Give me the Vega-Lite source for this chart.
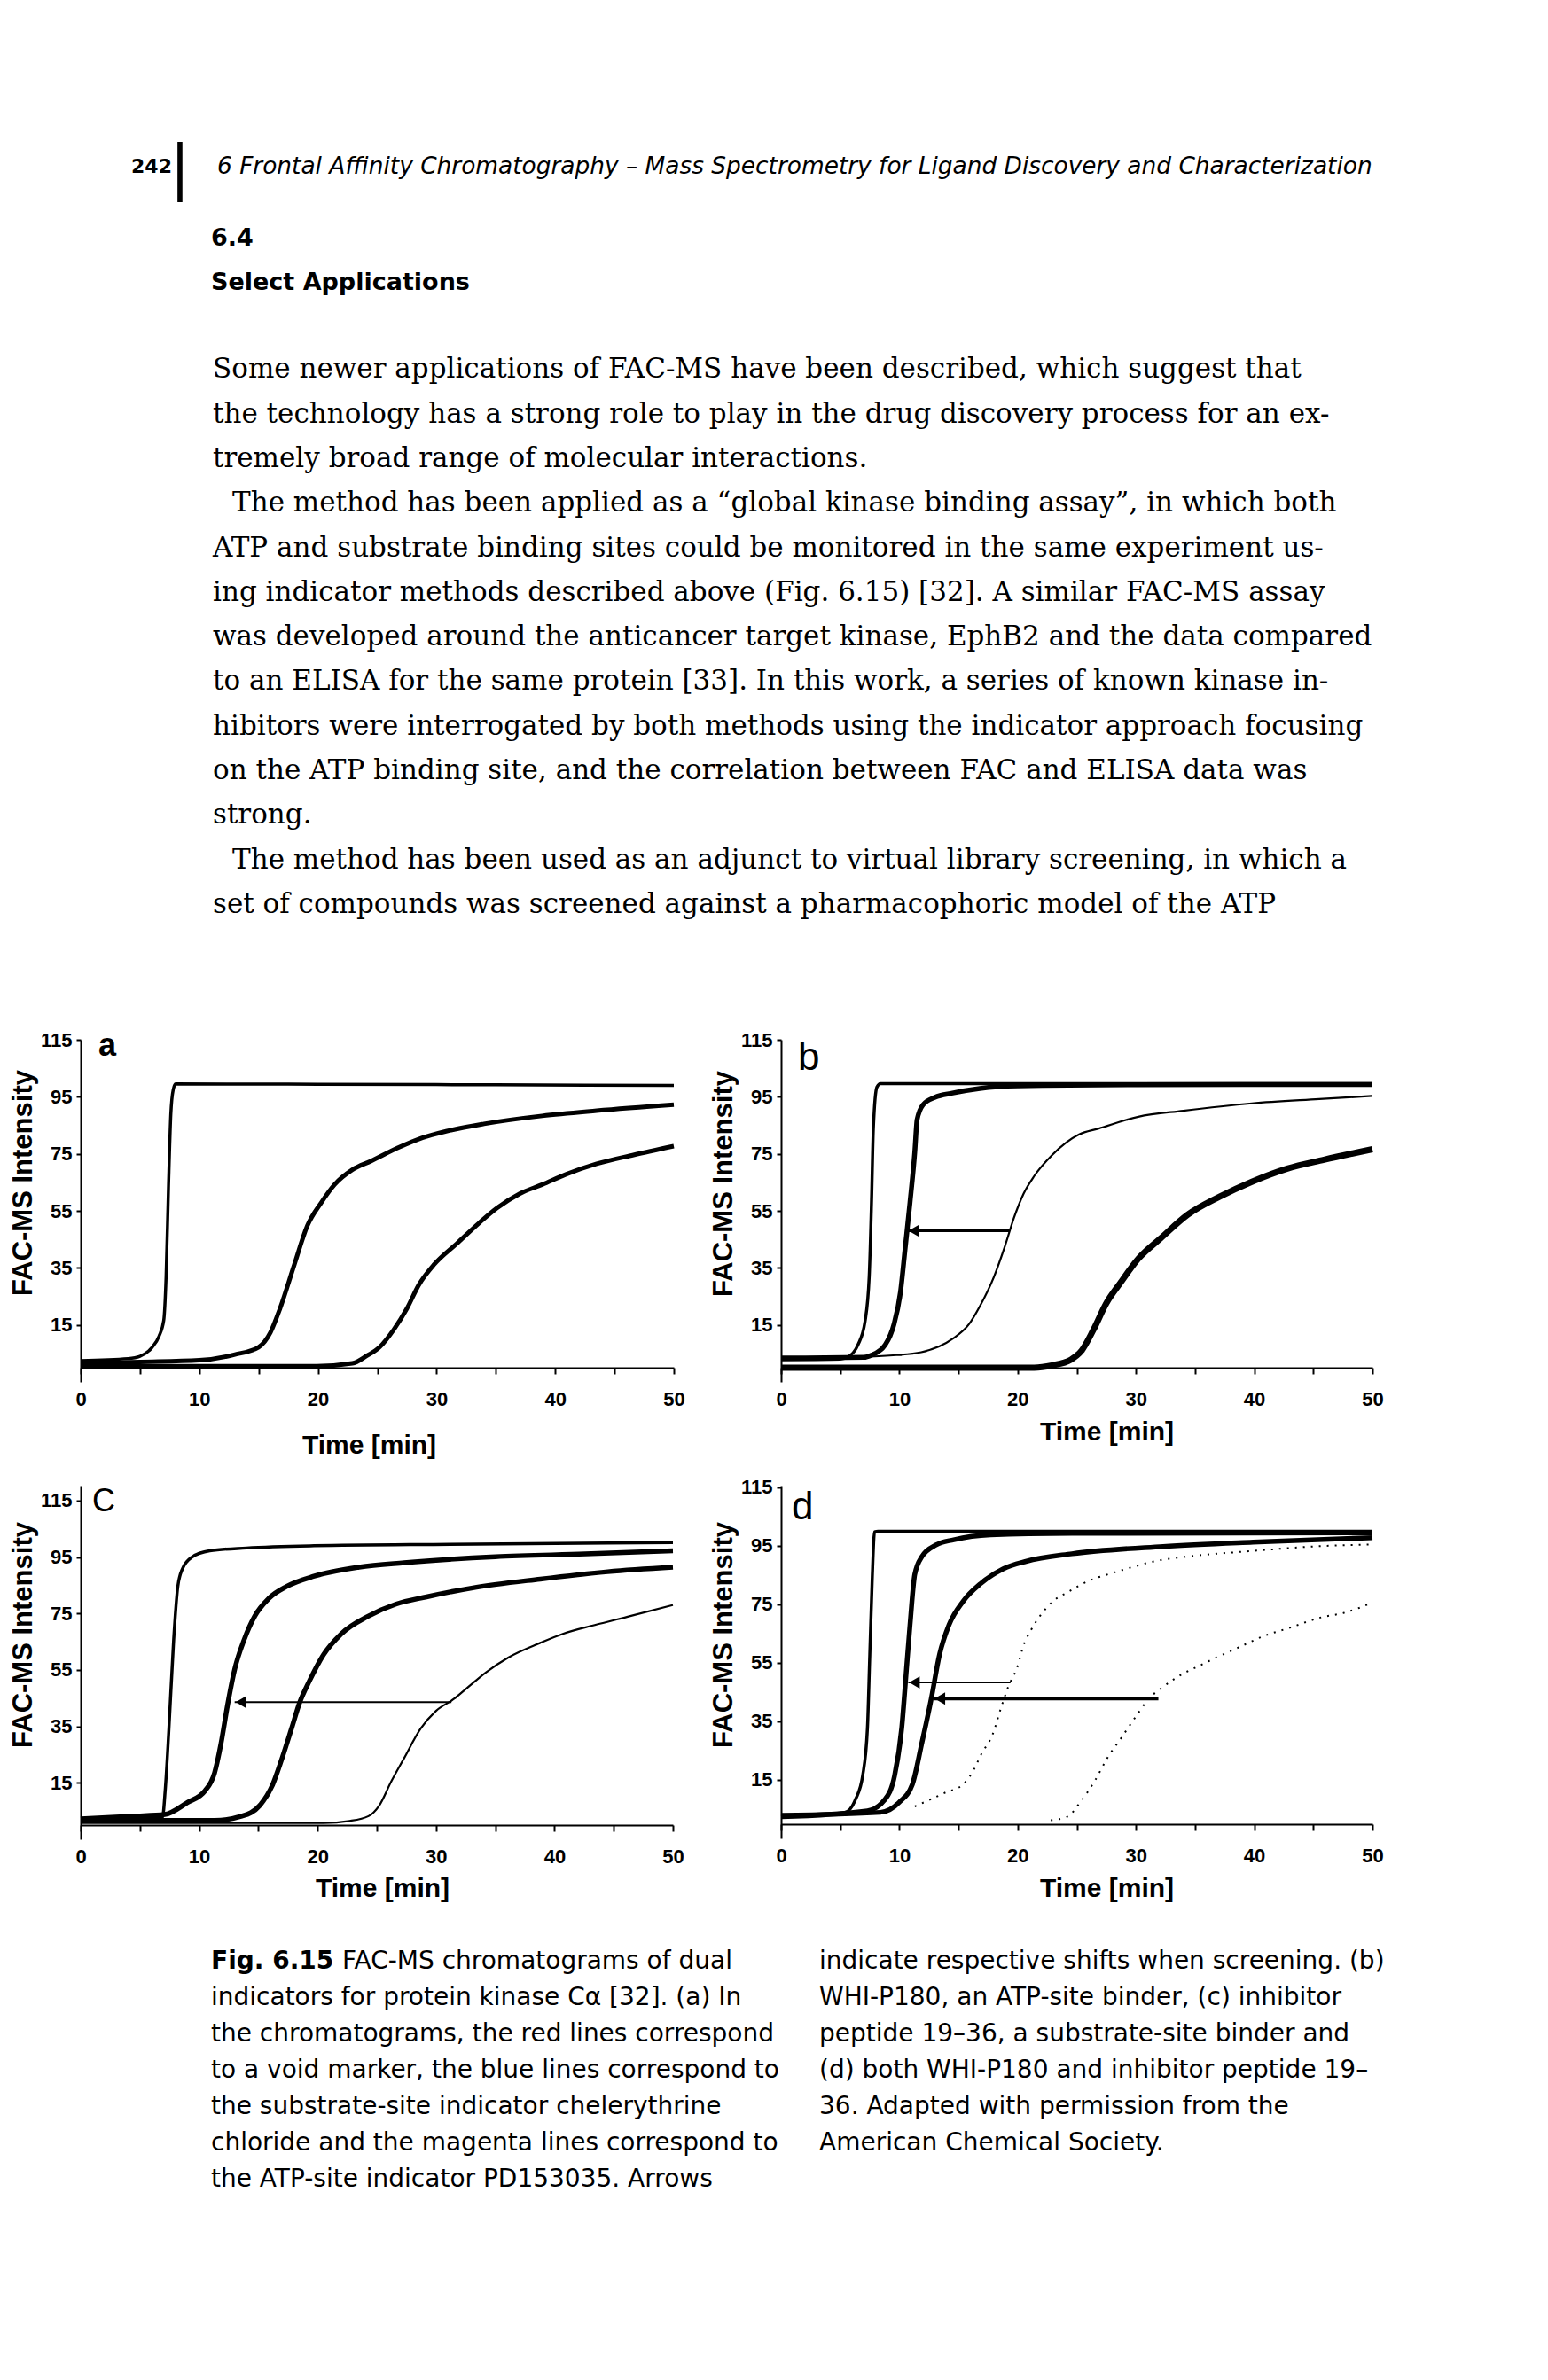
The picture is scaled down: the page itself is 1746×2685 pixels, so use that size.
{
"$schema": "https://vega.github.io/schema/vega-lite/v6.json",
"background": "white",
"padding": {"left": 10, "top": 0, "right": 20, "bottom": 20},
"bounds": "flush",
"columns": 2,
"spacing": {"row": 117, "column": 121},
"resolve": {"scale": {"x": "independent", "y": "independent"}},
"config": {
  "view": {"stroke": null},
  "axis": {"grid": false, "domainColor": "black", "domainWidth": 2, "tickColor": "black", "tickWidth": 2, "labelColor": "black", "titleColor": "black", "labelFont": "Liberation Sans", "titleFont": "Liberation Sans", "labelFontSize": 22, "labelFontWeight": "bold", "titleFontSize": 30, "titleFontWeight": "bold", "labelOverlap": false},
  "axisX": {"tickSize": 7, "labelPadding": 18, "offset": -16, "titleBaseline": "middle", "labelFlush": false},
  "axisY": {"tickSize": 5, "labelPadding": 5, "titlePadding": 3, "titleFontSize": 31},
  "title": {"anchor": "start", "frame": "group", "orient": "top", "baseline": "alphabetic", "font": "Liberation Sans", "color": "black"}
},
"datasets": {
"page": [
{"line":3,"part":"folio","text":"242"},
{"line":3,"part":"bar","text":"|"},
{"line":3,"part":"header","text":"6 Frontal Affinity Chromatography – Mass Spectrometry for Ligand Discovery and Characterization"},
{"line":5,"part":"section","text":"6.4"},
{"line":6,"part":"section","text":"Select Applications"},
{"line":8,"part":"body","text":"Some newer applications of FAC-MS have been described, which suggest that"},
{"line":9,"part":"body","text":"the technology has a strong role to play in the drug discovery process for an ex-"},
{"line":10,"part":"body","text":"tremely broad range of molecular interactions."},
{"line":11,"part":"first","text":"The method has been applied as a “global kinase binding assay”, in which both"},
{"line":12,"part":"body","text":"ATP and substrate binding sites could be monitored in the same experiment us-"},
{"line":13,"part":"body","text":"ing indicator methods described above (Fig. 6.15) [32]. A similar FAC-MS assay"},
{"line":14,"part":"body","text":"was developed around the anticancer target kinase, EphB2 and the data compared"},
{"line":15,"part":"body","text":"to an ELISA for the same protein [33]. In this work, a series of known kinase in-"},
{"line":16,"part":"body","text":"hibitors were interrogated by both methods using the indicator approach focusing"},
{"line":17,"part":"body","text":"on the ATP binding site, and the correlation between FAC and ELISA data was"},
{"line":18,"part":"body","text":"strong."},
{"line":19,"part":"first","text":"The method has been used as an adjunct to virtual library screening, in which a"},
{"line":20,"part":"body","text":"set of compounds was screened against a pharmacophoric model of the ATP"}
],
"caption": [
{"col":"left","line":0,"part":"label","text":"Fig. 6.15"},
{"col":"left","line":0,"part":"cont","text":"FAC-MS chromatograms of dual"},
{"col":"left","line":1,"part":"text","text":"indicators for protein kinase Cα [32]. (a) In"},
{"col":"left","line":2,"part":"text","text":"the chromatograms, the red lines correspond"},
{"col":"left","line":3,"part":"text","text":"to a void marker, the blue lines correspond to"},
{"col":"left","line":4,"part":"text","text":"the substrate-site indicator chelerythrine"},
{"col":"left","line":5,"part":"text","text":"chloride and the magenta lines correspond to"},
{"col":"left","line":6,"part":"text","text":"the ATP-site indicator PD153035. Arrows"},
{"col":"right","line":0,"part":"text","text":"indicate respective shifts when screening. (b)"},
{"col":"right","line":1,"part":"text","text":"WHI-P180, an ATP-site binder, (c) inhibitor"},
{"col":"right","line":2,"part":"text","text":"peptide 19–36, a substrate-site binder and"},
{"col":"right","line":3,"part":"text","text":"(d) both WHI-P180 and inhibitor peptide 19–"},
{"col":"right","line":4,"part":"text","text":"36. Adapted with permission from the"},
{"col":"right","line":5,"part":"text","text":"American Chemical Society."}
],
"arrows": [
{"panel":"b","inhibitor":"WHI-P180","t":19.3,"t2":10.7,"v":48},
{"panel":"c","inhibitor":"peptide 19-36","t":31.3,"t2":13.0,"v":43.6},
{"panel":"d","inhibitor":"WHI-P180","t":19.4,"t2":10.75,"v":48.3},
{"panel":"d","inhibitor":"peptide 19-36","t":31.9,"t2":12.9,"v":42.8}
],
"curves": [
{"panel":"a","curve":"a1","run":"void marker","t":0,"v":2.5},
{"panel":"a","curve":"a1","run":"void marker","t":4,"v":3.2},
{"panel":"a","curve":"a1","run":"void marker","t":5,"v":4},
{"panel":"a","curve":"a1","run":"void marker","t":6,"v":7},
{"panel":"a","curve":"a1","run":"void marker","t":6.6,"v":11},
{"panel":"a","curve":"a1","run":"void marker","t":7,"v":16.5},
{"panel":"a","curve":"a1","run":"void marker","t":7.2,"v":32},
{"panel":"a","curve":"a1","run":"void marker","t":7.4,"v":63},
{"panel":"a","curve":"a1","run":"void marker","t":7.6,"v":89},
{"panel":"a","curve":"a1","run":"void marker","t":7.8,"v":97.5},
{"panel":"a","curve":"a1","run":"void marker","t":8,"v":99.5},
{"panel":"a","curve":"a1","run":"void marker","t":20,"v":99.4},
{"panel":"a","curve":"a1","run":"void marker","t":35,"v":99.2},
{"panel":"a","curve":"a1","run":"void marker","t":50,"v":99},
{"panel":"a","curve":"a2","run":"indicator","t":0,"v":1.5},
{"panel":"a","curve":"a2","run":"indicator","t":5,"v":2},
{"panel":"a","curve":"a2","run":"indicator","t":10,"v":2.6},
{"panel":"a","curve":"a2","run":"indicator","t":13,"v":4.6},
{"panel":"a","curve":"a2","run":"indicator","t":15,"v":7.2},
{"panel":"a","curve":"a2","run":"indicator","t":16,"v":12.4},
{"panel":"a","curve":"a2","run":"indicator","t":16.8,"v":20.7},
{"panel":"a","curve":"a2","run":"indicator","t":18,"v":36},
{"panel":"a","curve":"a2","run":"indicator","t":19.1,"v":49.7},
{"panel":"a","curve":"a2","run":"indicator","t":20.3,"v":58},
{"panel":"a","curve":"a2","run":"indicator","t":21.4,"v":64.2},
{"panel":"a","curve":"a2","run":"indicator","t":22.9,"v":69.4},
{"panel":"a","curve":"a2","run":"indicator","t":24.5,"v":72.5},
{"panel":"a","curve":"a2","run":"indicator","t":26.8,"v":77.2},
{"panel":"a","curve":"a2","run":"indicator","t":28.8,"v":80.6},
{"panel":"a","curve":"a2","run":"indicator","t":30.8,"v":82.9},
{"panel":"a","curve":"a2","run":"indicator","t":34,"v":85.5},
{"panel":"a","curve":"a2","run":"indicator","t":38.9,"v":88.3},
{"panel":"a","curve":"a2","run":"indicator","t":43.5,"v":90.1},
{"panel":"a","curve":"a2","run":"indicator","t":50,"v":92.2},
{"panel":"a","curve":"a3","run":"indicator","t":0,"v":0.5},
{"panel":"a","curve":"a3","run":"indicator","t":19.9,"v":0.5},
{"panel":"a","curve":"a3","run":"indicator","t":22.9,"v":1.5},
{"panel":"a","curve":"a3","run":"indicator","t":24.1,"v":4.1},
{"panel":"a","curve":"a3","run":"indicator","t":25.2,"v":7.2},
{"panel":"a","curve":"a3","run":"indicator","t":26.4,"v":13.4},
{"panel":"a","curve":"a3","run":"indicator","t":27.5,"v":20.7},
{"panel":"a","curve":"a3","run":"indicator","t":28.5,"v":29},
{"panel":"a","curve":"a3","run":"indicator","t":29.8,"v":36.2},
{"panel":"a","curve":"a3","run":"indicator","t":31.7,"v":43.5},
{"panel":"a","curve":"a3","run":"indicator","t":33.6,"v":50.8},
{"panel":"a","curve":"a3","run":"indicator","t":35.1,"v":56},
{"panel":"a","curve":"a3","run":"indicator","t":37,"v":61},
{"panel":"a","curve":"a3","run":"indicator","t":38.9,"v":64.2},
{"panel":"a","curve":"a3","run":"indicator","t":40.9,"v":67.8},
{"panel":"a","curve":"a3","run":"indicator","t":43.5,"v":71.5},
{"panel":"a","curve":"a3","run":"indicator","t":46.6,"v":74.6},
{"panel":"a","curve":"a3","run":"indicator","t":50,"v":77.7},
{"panel":"b","curve":"b1","run":"void marker","t":0,"v":2.8},
{"panel":"b","curve":"b1","run":"void marker","t":5,"v":3},
{"panel":"b","curve":"b1","run":"void marker","t":5.7,"v":3.9},
{"panel":"b","curve":"b1","run":"void marker","t":6.5,"v":8},
{"panel":"b","curve":"b1","run":"void marker","t":7.1,"v":16.3},
{"panel":"b","curve":"b1","run":"void marker","t":7.45,"v":32},
{"panel":"b","curve":"b1","run":"void marker","t":7.65,"v":59},
{"panel":"b","curve":"b1","run":"void marker","t":7.8,"v":84},
{"panel":"b","curve":"b1","run":"void marker","t":8.1,"v":98.4},
{"panel":"b","curve":"b1","run":"void marker","t":8.4,"v":99.6},
{"panel":"b","curve":"b1","run":"void marker","t":30,"v":99.6},
{"panel":"b","curve":"b1","run":"void marker","t":50,"v":99.6},
{"panel":"b","curve":"b2","run":"indicator, screened","t":0,"v":3.4},
{"panel":"b","curve":"b2","run":"indicator, screened","t":7,"v":3.6},
{"panel":"b","curve":"b2","run":"indicator, screened","t":7.65,"v":4.4},
{"panel":"b","curve":"b2","run":"indicator, screened","t":8.8,"v":8},
{"panel":"b","curve":"b2","run":"indicator, screened","t":9.55,"v":15.3},
{"panel":"b","curve":"b2","run":"indicator, screened","t":10.1,"v":26.7},
{"panel":"b","curve":"b2","run":"indicator, screened","t":10.5,"v":42.3},
{"panel":"b","curve":"b2","run":"indicator, screened","t":10.9,"v":58},
{"panel":"b","curve":"b2","run":"indicator, screened","t":11.3,"v":75.5},
{"panel":"b","curve":"b2","run":"indicator, screened","t":11.5,"v":87},
{"panel":"b","curve":"b2","run":"indicator, screened","t":12,"v":92.2},
{"panel":"b","curve":"b2","run":"indicator, screened","t":13,"v":94.8},
{"panel":"b","curve":"b2","run":"indicator, screened","t":14.5,"v":96.3},
{"panel":"b","curve":"b2","run":"indicator, screened","t":16.8,"v":97.9},
{"panel":"b","curve":"b2","run":"indicator, screened","t":20,"v":98.8},
{"panel":"b","curve":"b2","run":"indicator, screened","t":30,"v":99.2},
{"panel":"b","curve":"b2","run":"indicator, screened","t":50,"v":99.3},
{"panel":"b","curve":"b3","run":"indicator, control","t":0,"v":3},
{"panel":"b","curve":"b3","run":"indicator, control","t":9.75,"v":4.4},
{"panel":"b","curve":"b3","run":"indicator, control","t":11.85,"v":5.4},
{"panel":"b","curve":"b3","run":"indicator, control","t":14.5,"v":10.1},
{"panel":"b","curve":"b3","run":"indicator, control","t":15.9,"v":15.3},
{"panel":"b","curve":"b3","run":"indicator, control","t":16.8,"v":21.5},
{"panel":"b","curve":"b3","run":"indicator, control","t":18,"v":31.9},
{"panel":"b","curve":"b3","run":"indicator, control","t":18.9,"v":42.3},
{"panel":"b","curve":"b3","run":"indicator, control","t":19.7,"v":52.7},
{"panel":"b","curve":"b3","run":"indicator, control","t":20.5,"v":61},
{"panel":"b","curve":"b3","run":"indicator, control","t":21.4,"v":67.2},
{"panel":"b","curve":"b3","run":"indicator, control","t":22.9,"v":74.5},
{"panel":"b","curve":"b3","run":"indicator, control","t":25.2,"v":81.8},
{"panel":"b","curve":"b3","run":"indicator, control","t":26.8,"v":83.8},
{"panel":"b","curve":"b3","run":"indicator, control","t":30.2,"v":88},
{"panel":"b","curve":"b3","run":"indicator, control","t":34,"v":90.1},
{"panel":"b","curve":"b3","run":"indicator, control","t":39.8,"v":92.7},
{"panel":"b","curve":"b3","run":"indicator, control","t":45.5,"v":94.2},
{"panel":"b","curve":"b3","run":"indicator, control","t":50,"v":95.3},
{"panel":"b","curve":"b4","run":"indicator","t":0,"v":0},
{"panel":"b","curve":"b4","run":"indicator","t":21.4,"v":0},
{"panel":"b","curve":"b4","run":"indicator","t":22.9,"v":0.8},
{"panel":"b","curve":"b4","run":"indicator","t":24.5,"v":2.8},
{"panel":"b","curve":"b4","run":"indicator","t":25.4,"v":5.9},
{"panel":"b","curve":"b4","run":"indicator","t":26.4,"v":13.2},
{"panel":"b","curve":"b4","run":"indicator","t":27.5,"v":22.6},
{"panel":"b","curve":"b4","run":"indicator","t":28.7,"v":29.8},
{"panel":"b","curve":"b4","run":"indicator","t":30.2,"v":38.2},
{"panel":"b","curve":"b4","run":"indicator","t":32.1,"v":45.4},
{"panel":"b","curve":"b4","run":"indicator","t":34.4,"v":53.7},
{"panel":"b","curve":"b4","run":"indicator","t":37.1,"v":60},
{"panel":"b","curve":"b4","run":"indicator","t":39.8,"v":65.2},
{"panel":"b","curve":"b4","run":"indicator","t":42.8,"v":69.8},
{"panel":"b","curve":"b4","run":"indicator","t":45.9,"v":72.9},
{"panel":"b","curve":"b4","run":"indicator","t":50,"v":76.6},
{"panel":"c","curve":"c1","run":"void marker","t":0,"v":1.7},
{"panel":"c","curve":"c1","run":"void marker","t":6.9,"v":2.7},
{"panel":"c","curve":"c1","run":"void marker","t":7.15,"v":13.2},
{"panel":"c","curve":"c1","run":"void marker","t":7.45,"v":34.2},
{"panel":"c","curve":"c1","run":"void marker","t":7.85,"v":65.7},
{"panel":"c","curve":"c1","run":"void marker","t":8.2,"v":84.6},
{"panel":"c","curve":"c1","run":"void marker","t":8.6,"v":90.9},
{"panel":"c","curve":"c1","run":"void marker","t":9.4,"v":95},
{"panel":"c","curve":"c1","run":"void marker","t":10.9,"v":97.2},
{"panel":"c","curve":"c1","run":"void marker","t":14,"v":98.2},
{"panel":"c","curve":"c1","run":"void marker","t":19.7,"v":99},
{"panel":"c","curve":"c1","run":"void marker","t":31.2,"v":99.5},
{"panel":"c","curve":"c1","run":"void marker","t":50,"v":100.1},
{"panel":"c","curve":"c2","run":"indicator, screened","t":0,"v":2.2},
{"panel":"c","curve":"c2","run":"indicator, screened","t":4.4,"v":3.2},
{"panel":"c","curve":"c2","run":"indicator, screened","t":7.1,"v":3.8},
{"panel":"c","curve":"c2","run":"indicator, screened","t":9,"v":8},
{"panel":"c","curve":"c2","run":"indicator, screened","t":10.5,"v":12.2},
{"panel":"c","curve":"c2","run":"indicator, screened","t":11.3,"v":18.5},
{"panel":"c","curve":"c2","run":"indicator, screened","t":11.85,"v":29},
{"panel":"c","curve":"c2","run":"indicator, screened","t":12.4,"v":42.6},
{"panel":"c","curve":"c2","run":"indicator, screened","t":13,"v":55.2},
{"panel":"c","curve":"c2","run":"indicator, screened","t":13.8,"v":65.7},
{"panel":"c","curve":"c2","run":"indicator, screened","t":14.7,"v":74.1},
{"panel":"c","curve":"c2","run":"indicator, screened","t":15.9,"v":80.4},
{"panel":"c","curve":"c2","run":"indicator, screened","t":17.4,"v":84.6},
{"panel":"c","curve":"c2","run":"indicator, screened","t":19.7,"v":88.2},
{"panel":"c","curve":"c2","run":"indicator, screened","t":23.5,"v":91.4},
{"panel":"c","curve":"c2","run":"indicator, screened","t":27.3,"v":93},
{"panel":"c","curve":"c2","run":"indicator, screened","t":35,"v":95.1},
{"panel":"c","curve":"c2","run":"indicator, screened","t":42.6,"v":96.1},
{"panel":"c","curve":"c2","run":"indicator, screened","t":50,"v":97.2},
{"panel":"c","curve":"c3","run":"indicator","t":0,"v":1.7},
{"panel":"c","curve":"c3","run":"indicator","t":11.3,"v":1.7},
{"panel":"c","curve":"c3","run":"indicator","t":13.6,"v":3.2},
{"panel":"c","curve":"c3","run":"indicator","t":15.1,"v":6.9},
{"panel":"c","curve":"c3","run":"indicator","t":16.2,"v":14.3},
{"panel":"c","curve":"c3","run":"indicator","t":17,"v":23.7},
{"panel":"c","curve":"c3","run":"indicator","t":17.8,"v":34.2},
{"panel":"c","curve":"c3","run":"indicator","t":18.5,"v":43.6},
{"panel":"c","curve":"c3","run":"indicator","t":19.3,"v":51},
{"panel":"c","curve":"c3","run":"indicator","t":20.5,"v":60.4},
{"panel":"c","curve":"c3","run":"indicator","t":22,"v":67.8},
{"panel":"c","curve":"c3","run":"indicator","t":24.3,"v":74.1},
{"panel":"c","curve":"c3","run":"indicator","t":26.6,"v":78.3},
{"panel":"c","curve":"c3","run":"indicator","t":29.2,"v":80.9},
{"panel":"c","curve":"c3","run":"indicator","t":33,"v":84},
{"panel":"c","curve":"c3","run":"indicator","t":38.8,"v":87.2},
{"panel":"c","curve":"c3","run":"indicator","t":44.5,"v":89.8},
{"panel":"c","curve":"c3","run":"indicator","t":50,"v":91.4},
{"panel":"c","curve":"c4","run":"indicator, control","t":0,"v":0.8},
{"panel":"c","curve":"c4","run":"indicator, control","t":20.5,"v":0.8},
{"panel":"c","curve":"c4","run":"indicator, control","t":22.7,"v":1.5},
{"panel":"c","curve":"c4","run":"indicator, control","t":24.3,"v":3.2},
{"panel":"c","curve":"c4","run":"indicator, control","t":25.2,"v":6.9},
{"panel":"c","curve":"c4","run":"indicator, control","t":26.2,"v":15.3},
{"panel":"c","curve":"c4","run":"indicator, control","t":27.3,"v":23.7},
{"panel":"c","curve":"c4","run":"indicator, control","t":28.7,"v":34.2},
{"panel":"c","curve":"c4","run":"indicator, control","t":30,"v":40.5},
{"panel":"c","curve":"c4","run":"indicator, control","t":31.5,"v":44.7},
{"panel":"c","curve":"c4","run":"indicator, control","t":32.7,"v":48.9},
{"panel":"c","curve":"c4","run":"indicator, control","t":34.2,"v":54.1},
{"panel":"c","curve":"c4","run":"indicator, control","t":36.1,"v":59.4},
{"panel":"c","curve":"c4","run":"indicator, control","t":38.8,"v":64.6},
{"panel":"c","curve":"c4","run":"indicator, control","t":40.7,"v":67.8},
{"panel":"c","curve":"c4","run":"indicator, control","t":43.4,"v":70.9},
{"panel":"c","curve":"c4","run":"indicator, control","t":46.4,"v":74.1},
{"panel":"c","curve":"c4","run":"indicator, control","t":50,"v":78},
{"panel":"d","curve":"d1","run":"void marker","t":0,"v":2.4},
{"panel":"d","curve":"d1","run":"void marker","t":5.4,"v":3.9},
{"panel":"d","curve":"d1","run":"void marker","t":6.3,"v":8.4},
{"panel":"d","curve":"d1","run":"void marker","t":6.9,"v":16.5},
{"panel":"d","curve":"d1","run":"void marker","t":7.3,"v":32.7},
{"panel":"d","curve":"d1","run":"void marker","t":7.5,"v":57.9},
{"panel":"d","curve":"d1","run":"void marker","t":7.7,"v":83.2},
{"panel":"d","curve":"d1","run":"void marker","t":7.9,"v":99.8},
{"panel":"d","curve":"d1","run":"void marker","t":8.2,"v":100},
{"panel":"d","curve":"d1","run":"void marker","t":50,"v":100},
{"panel":"d","curve":"d2","run":"indicator, screened","t":0,"v":2.4},
{"panel":"d","curve":"d2","run":"indicator, screened","t":7.3,"v":4.4},
{"panel":"d","curve":"d2","run":"indicator, screened","t":8.8,"v":8.4},
{"panel":"d","curve":"d2","run":"indicator, screened","t":9.6,"v":16.5},
{"panel":"d","curve":"d2","run":"indicator, screened","t":10.2,"v":32.7},
{"panel":"d","curve":"d2","run":"indicator, screened","t":10.6,"v":52.9},
{"panel":"d","curve":"d2","run":"indicator, screened","t":10.9,"v":68},
{"panel":"d","curve":"d2","run":"indicator, screened","t":11.3,"v":85.2},
{"panel":"d","curve":"d2","run":"indicator, screened","t":11.9,"v":91.3},
{"panel":"d","curve":"d2","run":"indicator, screened","t":13.1,"v":95.3},
{"panel":"d","curve":"d2","run":"indicator, screened","t":14.6,"v":97.1},
{"panel":"d","curve":"d2","run":"indicator, screened","t":17.7,"v":98.8},
{"panel":"d","curve":"d2","run":"indicator, screened","t":24.6,"v":99.3},
{"panel":"d","curve":"d2","run":"indicator, screened","t":50,"v":99.5},
{"panel":"d","curve":"d3","run":"indicator, screened","t":0,"v":2.9},
{"panel":"d","curve":"d3","run":"indicator, screened","t":8.4,"v":3.9},
{"panel":"d","curve":"d3","run":"indicator, screened","t":10,"v":7.4},
{"panel":"d","curve":"d3","run":"indicator, screened","t":11.1,"v":13.5},
{"panel":"d","curve":"d3","run":"indicator, screened","t":11.9,"v":27.6},
{"panel":"d","curve":"d3","run":"indicator, screened","t":12.7,"v":42.8},
{"panel":"d","curve":"d3","run":"indicator, screened","t":13.4,"v":57.9},
{"panel":"d","curve":"d3","run":"indicator, screened","t":14.2,"v":68},
{"panel":"d","curve":"d3","run":"indicator, screened","t":15.4,"v":76.1},
{"panel":"d","curve":"d3","run":"indicator, screened","t":16.9,"v":82.2},
{"panel":"d","curve":"d3","run":"indicator, screened","t":18.8,"v":87.2},
{"panel":"d","curve":"d3","run":"indicator, screened","t":20.7,"v":89.7},
{"panel":"d","curve":"d3","run":"indicator, screened","t":24.6,"v":92.3},
{"panel":"d","curve":"d3","run":"indicator, screened","t":32.3,"v":94.8},
{"panel":"d","curve":"d3","run":"indicator, screened","t":39.9,"v":96.3},
{"panel":"d","curve":"d3","run":"indicator, screened","t":50,"v":97.8},
{"panel":"d","curve":"d4","run":"indicator, control","t":11.3,"v":5.9},
{"panel":"d","curve":"d4","run":"indicator, control","t":13.8,"v":10.5},
{"panel":"d","curve":"d4","run":"indicator, control","t":15.4,"v":13.5},
{"panel":"d","curve":"d4","run":"indicator, control","t":16.3,"v":18.5},
{"panel":"d","curve":"d4","run":"indicator, control","t":16.9,"v":23.6},
{"panel":"d","curve":"d4","run":"indicator, control","t":17.9,"v":30.7},
{"panel":"d","curve":"d4","run":"indicator, control","t":18.6,"v":39.7},
{"panel":"d","curve":"d4","run":"indicator, control","t":19.2,"v":46.8},
{"panel":"d","curve":"d4","run":"indicator, control","t":20,"v":53.9},
{"panel":"d","curve":"d4","run":"indicator, control","t":20.5,"v":61},
{"panel":"d","curve":"d4","run":"indicator, control","t":21.1,"v":66},
{"panel":"d","curve":"d4","run":"indicator, control","t":21.9,"v":71.1},
{"panel":"d","curve":"d4","run":"indicator, control","t":23,"v":76.1},
{"panel":"d","curve":"d4","run":"indicator, control","t":24.2,"v":79.1},
{"panel":"d","curve":"d4","run":"indicator, control","t":26.1,"v":83.2},
{"panel":"d","curve":"d4","run":"indicator, control","t":28,"v":85.7},
{"panel":"d","curve":"d4","run":"indicator, control","t":32.3,"v":90.3},
{"panel":"d","curve":"d4","run":"indicator, control","t":34.2,"v":91.3},
{"panel":"d","curve":"d4","run":"indicator, control","t":40,"v":93.3},
{"panel":"d","curve":"d4","run":"indicator, control","t":45,"v":94.8},
{"panel":"d","curve":"d4","run":"indicator, control","t":50,"v":95.5},
{"panel":"d","curve":"d5","run":"indicator, control","t":22.8,"v":1.2},
{"panel":"d","curve":"d5","run":"indicator, control","t":24.2,"v":2.4},
{"panel":"d","curve":"d5","run":"indicator, control","t":25.3,"v":7.4},
{"panel":"d","curve":"d5","run":"indicator, control","t":26.5,"v":14.5},
{"panel":"d","curve":"d5","run":"indicator, control","t":27.6,"v":22.6},
{"panel":"d","curve":"d5","run":"indicator, control","t":28.8,"v":29.6},
{"panel":"d","curve":"d5","run":"indicator, control","t":30,"v":36.7},
{"panel":"d","curve":"d5","run":"indicator, control","t":31.1,"v":42.8},
{"panel":"d","curve":"d5","run":"indicator, control","t":32.3,"v":46.8},
{"panel":"d","curve":"d5","run":"indicator, control","t":33.8,"v":50.9},
{"panel":"d","curve":"d5","run":"indicator, control","t":35.3,"v":53.9},
{"panel":"d","curve":"d5","run":"indicator, control","t":36.9,"v":57},
{"panel":"d","curve":"d5","run":"indicator, control","t":38.8,"v":60.5},
{"panel":"d","curve":"d5","run":"indicator, control","t":40.7,"v":64},
{"panel":"d","curve":"d5","run":"indicator, control","t":43,"v":67},
{"panel":"d","curve":"d5","run":"indicator, control","t":45.7,"v":70.6},
{"panel":"d","curve":"d5","run":"indicator, control","t":47.6,"v":72.1},
{"panel":"d","curve":"d5","run":"indicator, control","t":50,"v":75.6}
]
},
"concat": [
{
  "width": 669, "height": 1056,
  "data": {"name": "page"},
  "encoding": {"y": {"field": "line", "type": "ordinal", "axis": null, "scale": {"domain": [0,1,2,3,4,5,6,7,8,9,10,11,12,13,14,15,16,17,18,19,20]}}, "text": {"field": "text"}},
  "layer": [
    {"transform": [{"filter": "datum.part === 'folio'"}], "mark": {"type": "text", "align": "right", "baseline": "middle", "font": "DejaVu Sans", "fontWeight": "bold", "fontSize": 22, "dy": 12, "color": "black"}, "encoding": {"x": {"value": 103}}},
    {"transform": [{"filter": "datum.part === 'bar'"}], "mark": {"type": "text", "align": "center", "baseline": "middle", "font": "DejaVu Sans", "fontSize": 68, "dy": 16, "color": "black"}, "encoding": {"x": {"value": 112}}},
    {"transform": [{"filter": "datum.part === 'header'"}], "mark": {"type": "text", "align": "left", "baseline": "middle", "font": "DejaVu Sans", "fontStyle": "italic", "fontSize": 26.4, "dy": 12, "color": "black"}, "encoding": {"x": {"value": 154}}},
    {"transform": [{"filter": "datum.part === 'section'"}], "mark": {"type": "text", "align": "left", "baseline": "middle", "font": "DejaVu Sans", "fontWeight": "bold", "fontSize": 27, "dy": -8, "color": "black"}, "encoding": {"x": {"value": 147}}},
    {"transform": [{"filter": "datum.part === 'body'"}], "mark": {"type": "text", "align": "left", "baseline": "middle", "font": "DejaVu Serif", "fontSize": 31, "dy": -10, "color": "black"}, "encoding": {"x": {"value": 149}}},
    {"transform": [{"filter": "datum.part === 'first'"}], "mark": {"type": "text", "align": "left", "baseline": "middle", "font": "DejaVu Serif", "fontSize": 31, "dy": -10, "color": "black"}, "encoding": {"x": {"value": 171}}}
  ]
},
{
  "width": 667, "height": 10,
  "data": {"values": []},
  "mark": {"type": "text"}
},
{
  "width": 669, "height": 386,
  "title": {"text": "a", "fontSize": 36, "fontWeight": "bold", "dx": 20, "offset": -37},
  "encoding": {
    "x": {"field": "t", "type": "quantitative", "title": "Time [min]", "scale": {"domain": [0, 50], "nice": false, "zero": false}, "axis": {"values": [0,5,10,15,20,25,30,35,40,45,50], "labelExpr": "datum.value % 10 === 0 ? datum.label : ''", "titleY": 87, "titleX": 325}},
    "y": {"field": "v", "type": "quantitative", "title": "FAC-MS Intensity", "scale": {"domain": [-5, 115], "nice": false, "zero": false}, "axis": {"values": [15,35,55,75,95,115], "titleY": 161}}
  },
  "layer": [
    {"data": {"name": "curves"}, "transform": [{"filter": "datum.panel === 'a' && datum.run === 'void marker'"}], "mark": {"type": "line", "interpolate": "monotone", "color": "black", "strokeWidth": 3.5}, "encoding": {"detail": {"field": "curve"}}},
    {"data": {"name": "curves"}, "transform": [{"filter": "datum.panel === 'a' && datum.run === 'indicator'"}], "mark": {"type": "line", "interpolate": "monotone", "color": "black", "strokeWidth": 5}, "encoding": {"detail": {"field": "curve"}}}
  ]
},
{
  "width": 667, "height": 386,
  "title": {"text": "b", "fontSize": 44, "fontWeight": "normal", "dx": 19, "offset": -54},
  "encoding": {
    "x": {"field": "t", "type": "quantitative", "title": "Time [min]", "scale": {"domain": [0, 50], "nice": false, "zero": false}, "axis": {"values": [0,5,10,15,20,25,30,35,40,45,50], "labelExpr": "datum.value % 10 === 0 ? datum.label : ''", "titleY": 72, "titleX": 367}},
    "y": {"field": "v", "type": "quantitative", "title": "FAC-MS Intensity", "scale": {"domain": [-5, 115], "nice": false, "zero": false}, "axis": {"values": [15,35,55,75,95,115], "titleY": 162}}
  },
  "layer": [
    {"data": {"name": "curves"}, "transform": [{"filter": "datum.panel === 'b' && datum.run === 'void marker'"}], "mark": {"type": "line", "interpolate": "monotone", "color": "black", "strokeWidth": 3.5}, "encoding": {"detail": {"field": "curve"}}},
    {"data": {"name": "curves"}, "transform": [{"filter": "datum.panel === 'b' && datum.run === 'indicator, screened'"}], "mark": {"type": "line", "interpolate": "monotone", "color": "black", "strokeWidth": 5.5}, "encoding": {"detail": {"field": "curve"}}},
    {"data": {"name": "curves"}, "transform": [{"filter": "datum.panel === 'b' && datum.run === 'indicator, control'"}], "mark": {"type": "line", "interpolate": "monotone", "color": "black", "strokeWidth": 2.2}, "encoding": {"detail": {"field": "curve"}}},
    {"data": {"name": "curves"}, "transform": [{"filter": "datum.panel === 'b' && datum.run === 'indicator'"}], "mark": {"type": "line", "interpolate": "monotone", "color": "black", "strokeWidth": 7}, "encoding": {"detail": {"field": "curve"}}},
    {"data": {"name": "arrows"}, "transform": [{"filter": "datum.panel === 'b'"}], "mark": {"type": "rule", "color": "black", "strokeWidth": 3}, "encoding": {"x2": {"field": "t2"}}},
    {"data": {"name": "arrows"}, "transform": [{"filter": "datum.panel === 'b'"}], "mark": {"type": "point", "shape": "triangle-left", "filled": true, "color": "black", "opacity": 1, "size": 200, "xOffset": 7}, "encoding": {"x": {"field": "t2", "type": "quantitative"}}}
  ]
},
{
  "width": 668, "height": 399,
  "title": {"text": "C", "fontSize": 36, "fontWeight": "normal", "dx": 13, "offset": -37},
  "encoding": {
    "x": {"field": "t", "type": "quantitative", "title": "Time [min]", "scale": {"domain": [0, 50], "nice": false, "zero": false}, "axis": {"values": [0,5,10,15,20,25,30,35,40,45,50], "labelExpr": "datum.value % 10 === 0 ? datum.label : ''", "titleY": 71, "titleX": 340}},
    "y": {"field": "v", "type": "quantitative", "title": "FAC-MS Intensity", "scale": {"domain": [-5, 120.3], "nice": false, "zero": false}, "axis": {"values": [15,35,55,75,95,115], "titleY": 168}}
  },
  "layer": [
    {"data": {"name": "curves"}, "transform": [{"filter": "datum.panel === 'c' && datum.run === 'void marker'"}], "mark": {"type": "line", "interpolate": "monotone", "color": "black", "strokeWidth": 3.5}, "encoding": {"detail": {"field": "curve"}}},
    {"data": {"name": "curves"}, "transform": [{"filter": "datum.panel === 'c' && datum.run === 'indicator, screened'"}], "mark": {"type": "line", "interpolate": "monotone", "color": "black", "strokeWidth": 5.5}, "encoding": {"detail": {"field": "curve"}}},
    {"data": {"name": "curves"}, "transform": [{"filter": "datum.panel === 'c' && datum.run === 'indicator'"}], "mark": {"type": "line", "interpolate": "monotone", "color": "black", "strokeWidth": 5.5}, "encoding": {"detail": {"field": "curve"}}},
    {"data": {"name": "curves"}, "transform": [{"filter": "datum.panel === 'c' && datum.run === 'indicator, control'"}], "mark": {"type": "line", "interpolate": "monotone", "color": "black", "strokeWidth": 2.2}, "encoding": {"detail": {"field": "curve"}}},
    {"data": {"name": "arrows"}, "transform": [{"filter": "datum.panel === 'c'"}], "mark": {"type": "rule", "color": "black", "strokeWidth": 2}, "encoding": {"x2": {"field": "t2"}}},
    {"data": {"name": "arrows"}, "transform": [{"filter": "datum.panel === 'c'"}], "mark": {"type": "point", "shape": "triangle-left", "filled": true, "color": "black", "opacity": 1, "size": 180, "xOffset": 7}, "encoding": {"x": {"field": "t2", "type": "quantitative"}}}
  ]
},
{
  "width": 667, "height": 398,
  "title": {"text": "d", "fontSize": 44, "fontWeight": "normal", "dx": 12, "offset": -56},
  "encoding": {
    "x": {"field": "t", "type": "quantitative", "title": "Time [min]", "scale": {"domain": [0, 50], "nice": false, "zero": false}, "axis": {"values": [0,5,10,15,20,25,30,35,40,45,50], "labelExpr": "datum.value % 10 === 0 ? datum.label : ''", "titleY": 72, "titleX": 367}},
    "y": {"field": "v", "type": "quantitative", "title": "FAC-MS Intensity", "scale": {"domain": [-5, 115.6], "nice": false, "zero": false}, "axis": {"values": [15,35,55,75,95,115], "titleY": 168}}
  },
  "layer": [
    {"data": {"name": "curves"}, "transform": [{"filter": "datum.panel === 'd' && datum.run === 'void marker'"}], "mark": {"type": "line", "interpolate": "monotone", "color": "black", "strokeWidth": 3.5}, "encoding": {"detail": {"field": "curve"}}},
    {"data": {"name": "curves"}, "transform": [{"filter": "datum.panel === 'd' && datum.run === 'indicator, screened'"}], "mark": {"type": "line", "interpolate": "monotone", "color": "black", "strokeWidth": 5.5}, "encoding": {"detail": {"field": "curve"}}},
    {"data": {"name": "curves"}, "transform": [{"filter": "datum.panel === 'd' && datum.run === 'indicator, control'"}], "mark": {"type": "line", "interpolate": "monotone", "color": "black", "strokeWidth": 2, "strokeDash": [2, 7]}, "encoding": {"detail": {"field": "curve"}}},
    {"data": {"name": "arrows"}, "transform": [{"filter": "datum.panel === 'd' && datum.inhibitor === 'WHI-P180'"}], "mark": {"type": "rule", "color": "black", "strokeWidth": 2}, "encoding": {"x2": {"field": "t2"}}},
    {"data": {"name": "arrows"}, "transform": [{"filter": "datum.panel === 'd' && datum.inhibitor !== 'WHI-P180'"}], "mark": {"type": "rule", "color": "black", "strokeWidth": 4}, "encoding": {"x2": {"field": "t2"}}},
    {"data": {"name": "arrows"}, "transform": [{"filter": "datum.panel === 'd'"}], "mark": {"type": "point", "shape": "triangle-left", "filled": true, "color": "black", "opacity": 1, "size": 190, "xOffset": 7}, "encoding": {"x": {"field": "t2", "type": "quantitative"}}}
  ]
},
{
  "width": 669, "height": 287,
  "data": {"name": "caption"},
  "transform": [{"filter": "datum.col === 'left'"}],
  "encoding": {
    "y": {"field": "line", "type": "ordinal", "axis": null, "scale": {"domain": [0,1,2,3,4,5,6]}},
    "x": {"value": 147},
    "text": {"field": "text"}
  },
  "layer": [
    {"transform": [{"filter": "datum.part === 'label'"}], "mark": {"type": "text", "align": "left", "baseline": "middle", "font": "DejaVu Sans", "fontWeight": "bold", "fontSize": 28, "color": "black"}},
    {"transform": [{"filter": "datum.part === 'cont'"}], "mark": {"type": "text", "align": "left", "baseline": "middle", "font": "DejaVu Sans", "fontSize": 28, "dx": 148, "color": "black"}},
    {"transform": [{"filter": "datum.part === 'text'"}], "mark": {"type": "text", "align": "left", "baseline": "middle", "font": "DejaVu Sans", "fontSize": 28, "color": "black"}}
  ]
},
{
  "width": 667, "height": 287,
  "data": {"name": "caption"},
  "transform": [{"filter": "datum.col === 'right'"}],
  "mark": {"type": "text", "align": "left", "baseline": "middle", "font": "DejaVu Sans", "fontSize": 28, "color": "black"},
  "encoding": {
    "y": {"field": "line", "type": "ordinal", "axis": null, "scale": {"domain": [0,1,2,3,4,5,6]}},
    "x": {"value": 43},
    "text": {"field": "text"}
  }
}
]
}
